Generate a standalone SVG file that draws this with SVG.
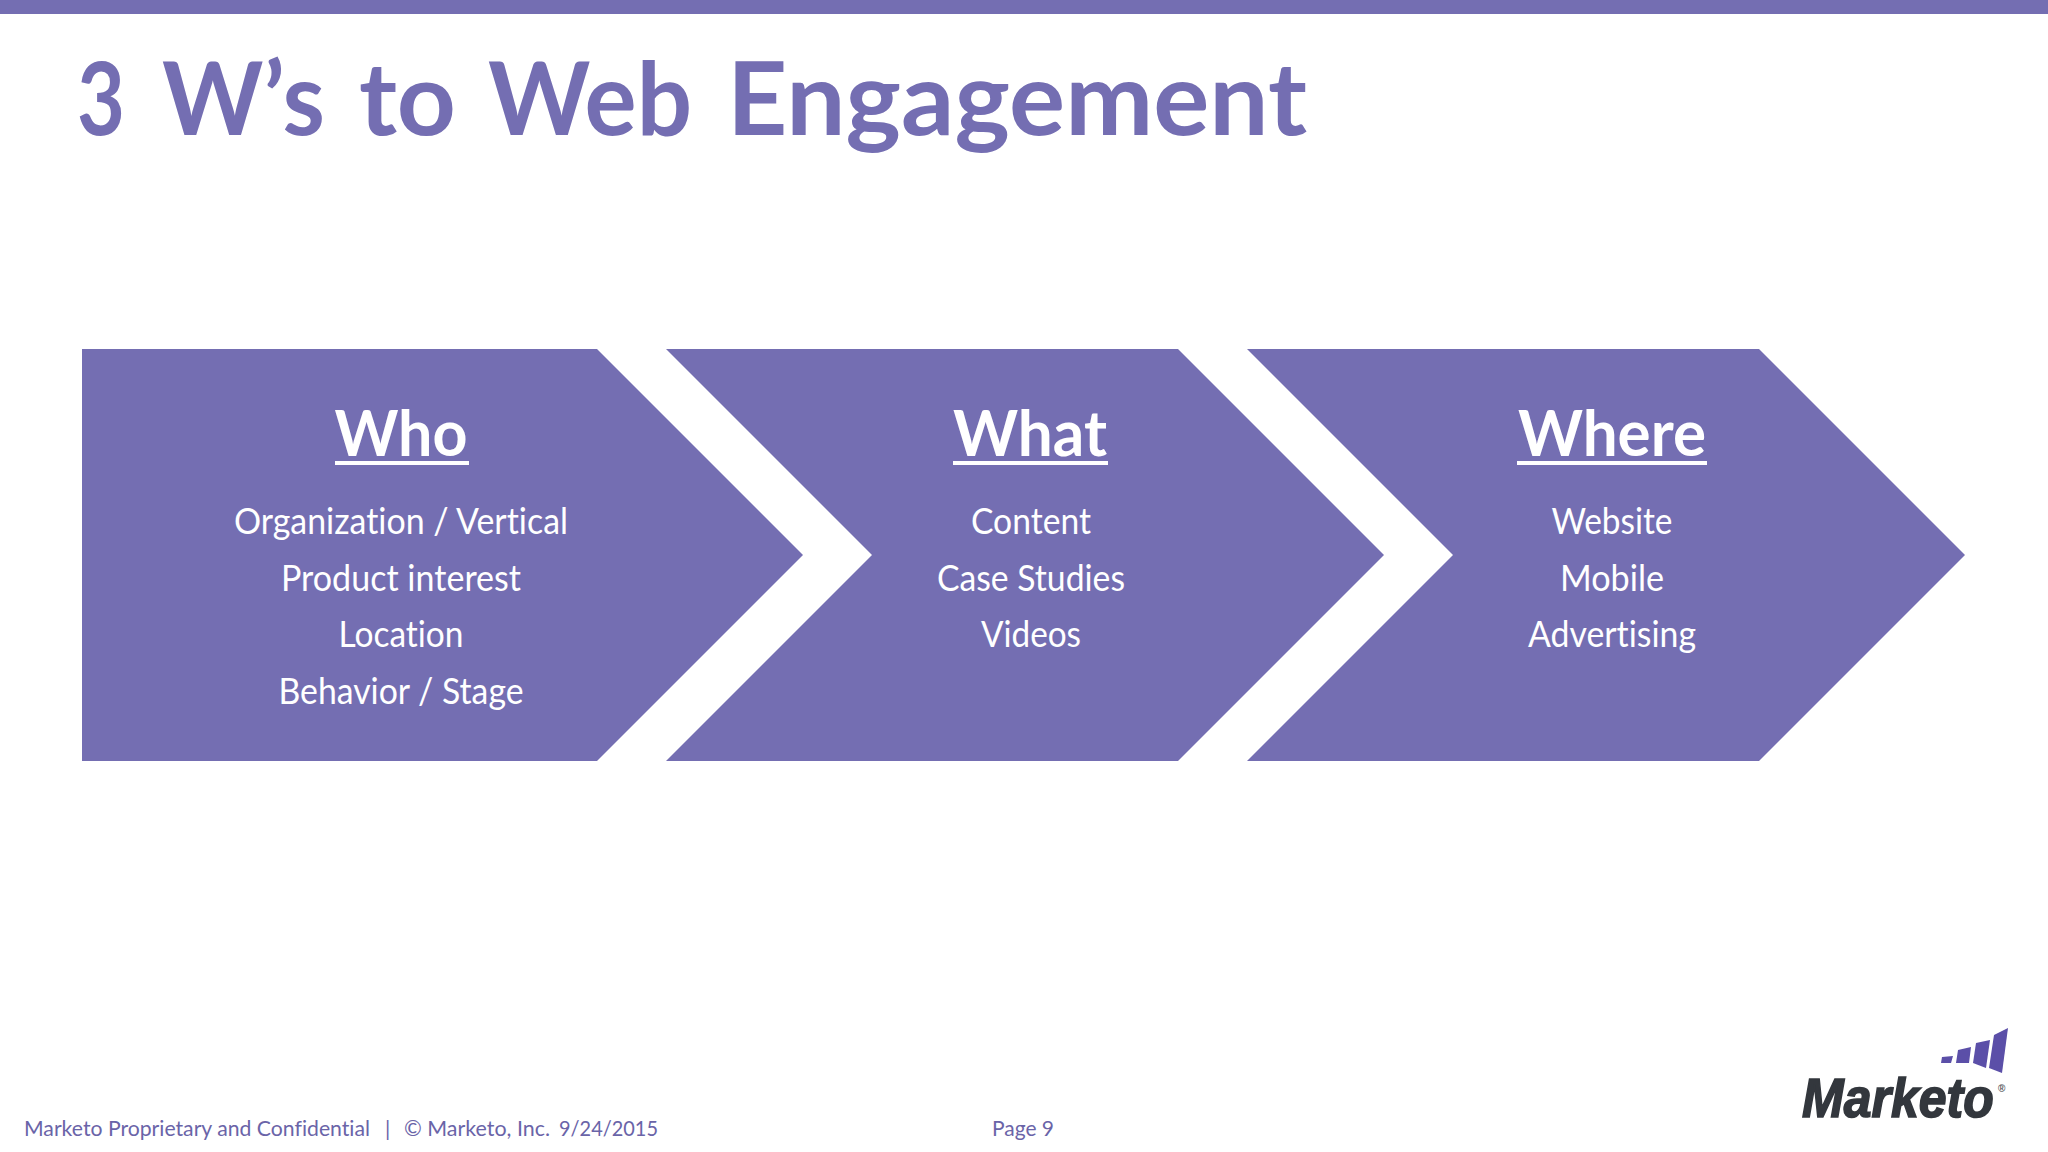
<svg xmlns="http://www.w3.org/2000/svg" width="2048" height="1152" viewBox="0 0 2048 1152">
<style>
text{font-family:Lato,"Open Sans",sans-serif;font-variant-ligatures:none}
.shape{fill:#746eb2}
.head{font-size:64px;font-weight:700;fill:#fff;text-anchor:middle}
.body{font-size:36px;fill:#fff;text-anchor:middle}
.foot{font-size:21px;fill:#6a64a8}
.line{fill:#fff}
</style>
<rect width="2048" height="1152" fill="#fff"/>
<rect id="top-bar" width="2048" height="14" fill="#746eb2"/>
<text id="title" y="135" font-size="102" font-weight="700" fill="#746eb2"><tspan x="77" textLength="48" lengthAdjust="spacingAndGlyphs">3</tspan> <tspan x="162" textLength="163" lengthAdjust="spacingAndGlyphs">W’s</tspan> <tspan x="359" textLength="97" lengthAdjust="spacingAndGlyphs">to</tspan> <tspan x="488" textLength="204" lengthAdjust="spacingAndGlyphs">Web</tspan> <tspan x="727" textLength="580" lengthAdjust="spacingAndGlyphs">Engagement</tspan></text>
<g id="who">
<polygon class="shape" points="82,349 597,349 803,555 597,761 82,761"/>
<text class="head" x="401" y="456" textLength="133" lengthAdjust="spacingAndGlyphs">Who</text>
<rect class="line" x="335" y="461" width="134" height="4"/>
<text class="body" x="401" y="534" textLength="334" lengthAdjust="spacingAndGlyphs">Organization / Vertical</text>
<text class="body" x="401" y="591" textLength="240" lengthAdjust="spacingAndGlyphs">Product interest</text>
<text class="body" x="401" y="647" textLength="125" lengthAdjust="spacingAndGlyphs">Location</text>
<text class="body" x="401" y="704" textLength="245" lengthAdjust="spacingAndGlyphs">Behavior / Stage</text>
</g>
<g id="what">
<polygon class="shape" points="666,349 1178,349 1384,555 1178,761 666,761 872,555"/>
<text class="head" x="1030" y="456" textLength="154" lengthAdjust="spacingAndGlyphs">What</text>
<rect class="line" x="953" y="461" width="155" height="4"/>
<text class="body" x="1031" y="534" textLength="120" lengthAdjust="spacingAndGlyphs">Content</text>
<text class="body" x="1031" y="591" textLength="188" lengthAdjust="spacingAndGlyphs">Case Studies</text>
<text class="body" x="1031" y="647" textLength="100" lengthAdjust="spacingAndGlyphs">Videos</text>
</g>
<g id="where">
<polygon class="shape" points="1247,349 1759,349 1965,555 1759,761 1247,761 1453,555"/>
<text class="head" x="1612" y="456" textLength="188" lengthAdjust="spacingAndGlyphs">Where</text>
<rect class="line" x="1517" y="461" width="190" height="4"/>
<text class="body" x="1612" y="534" textLength="121" lengthAdjust="spacingAndGlyphs">Website</text>
<text class="body" x="1612" y="591" textLength="104" lengthAdjust="spacingAndGlyphs">Mobile</text>
<text class="body" x="1612" y="647" textLength="168" lengthAdjust="spacingAndGlyphs">Advertising</text>
</g>
<g id="footer">
<text class="foot" y="1136"><tspan x="24" textLength="346" lengthAdjust="spacingAndGlyphs">Marketo Proprietary and Confidential</tspan> <tspan x="385">|</tspan> <tspan x="404" textLength="146" lengthAdjust="spacingAndGlyphs">© Marketo, Inc.</tspan> <tspan x="559" textLength="99" lengthAdjust="spacingAndGlyphs">9/24/2015</tspan></text>
<text class="foot" x="992" y="1136" textLength="62" lengthAdjust="spacingAndGlyphs">Page 9</text>
</g>
<g id="logo">
<polygon points="1942,1057 1953,1056 1951,1063 1941,1063" fill="#5b4fa8"/>
<polygon points="1958,1050 1971,1047 1969,1063 1956,1063" fill="#5b4fa8"/>
<polygon points="1976,1043 1990,1040 1986,1068 1973,1063" fill="#5b4fa8"/>
<polygon points="1994,1035 2008,1028 2002,1073 1989,1068" fill="#5b4fa8"/>
<text transform="translate(1802 1117) scale(1 1.12)" font-size="50" font-weight="700" font-style="italic" fill="#33373d" stroke="#33373d" stroke-width="1.5" style="font-family:'Liberation Sans',sans-serif">Marketo</text>
<text x="1998" y="1092" font-size="10" font-weight="700" fill="#55585c" style="font-family:'Liberation Sans',sans-serif">®</text>
</g>
</svg>
